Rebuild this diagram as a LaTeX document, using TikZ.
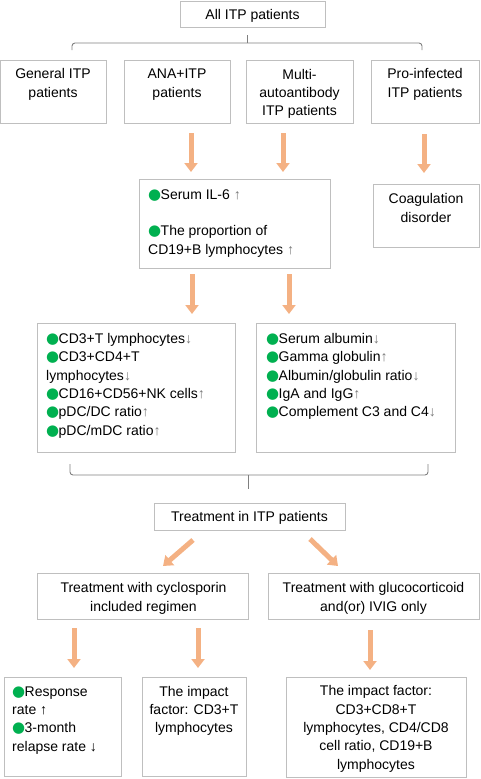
\documentclass[tikz,border=0pt]{standalone}
\usepackage{fontspec}
\setmainfont{Liberation Sans}
\newfontfamily\dejavu{DejaVu Sans}
\usetikzlibrary{arrows.meta}
\definecolor{bord}{HTML}{BFBFBF}
\definecolor{oarr}{HTML}{F4B183}
\definecolor{bgreen}{HTML}{00B050}
\definecolor{bracec}{HTML}{7F7F7F}
\definecolor{garr}{HTML}{7A7A7A}
\newcommand\gb{\makebox[12.5pt][l]{\textcolor{bgreen}{\dejavu\fontsize{15}{15}\selectfont ●}}}
\newcommand\uparr{\textcolor{garr}{↑}}
\newcommand\dnarr{\textcolor{garr}{↓}}
\begin{document}
\begin{tikzpicture}[x=1pt,y=-1pt,
  box/.style={draw=bord, line width=1pt, inner sep=0pt, fill=white},
  txt/.style={inner sep=0pt, font=\fontsize{14}{18.33}\selectfont, align=center, text=black},
  txtl/.style={txt, align=left},
  oarrow/.style={draw=oarr, line width=5pt, -{Triangle[width=13pt,length=9pt]}},
  bracel/.style={draw=bracec, line width=0.9pt, rounded corners=3pt}]
\useasboundingbox (0,0) rectangle (480,779);
% boxes
\node[box, minimum width=145pt, minimum height=26pt] (top) at (252.5,14) {};
\node[box, minimum width=105.5pt, minimum height=63pt] (b1) at (53.25,91.5) {};
\node[box, minimum width=106pt, minimum height=63pt] (b2) at (177,91.5) {};
\node[box, minimum width=107pt, minimum height=63pt] (b3) at (299.5,91.5) {};
\node[box, minimum width=108pt, minimum height=63pt] (b4) at (425.25,91.5) {};
\node[box, minimum width=191pt, minimum height=89pt] (il6) at (234.5,223.5) {};
\node[box, minimum width=106pt, minimum height=63pt] (coag) at (426,215.5) {};
\node[box, minimum width=198pt, minimum height=129pt] (lm) at (136,387.5) {};
\node[box, minimum width=199pt, minimum height=129pt] (rm) at (355.5,387.5) {};
\node[box, minimum width=191pt, minimum height=27pt] (treat) at (249.5,516.5) {};
\node[box, minimum width=211pt, minimum height=46pt] (cyc) at (142.5,596) {};
\node[box, minimum width=211pt, minimum height=46pt] (glu) at (373.5,596) {};
\node[box, minimum width=117pt, minimum height=99pt] (ba) at (62.5,726.5) {};
\node[box, minimum width=104pt, minimum height=99pt] (bb) at (194,726.5) {};
\node[box, minimum width=180pt, minimum height=100pt] (bc) at (376,727) {};
% texts (base anchor = baseline of last line)
\node[txt, anchor=base] (ttop) at (252.5,19.5) {All ITP patients};
\node[txt, anchor=base] (t1) at (53,97.3) {General ITP\\patients};
\node[txt, anchor=base] (t2) at (177,97.3) {ANA+ITP\\patients};
\node[txt, anchor=base] (t3) at (299.5,115.7) {Multi-\\autoantibody\\ITP patients};
\node[txt, anchor=base] (t4) at (425,97.3) {Pro-infected\\ITP patients};
\node[txtl, anchor=base west] (til6) at (148,254) {\gb Serum IL-6 \uparr\\[18.33pt]\gb The proportion of\\CD19+B lymphocytes \uparr};
\node[txt, anchor=base] (tcoag) at (426,222.3) {Coagulation\\disorder};
\node[txtl, anchor=base west] (tlm) at (46,435) {\gb CD3+T lymphocytes\dnarr\\\gb CD3+CD4+T\\lymphocytes\dnarr\\\gb CD16+CD56+NK cells\uparr\\\gb pDC/DC ratio\uparr\\\gb pDC/mDC ratio\uparr};
\node[txtl, anchor=base west] (trm) at (266,416.7) {\gb Serum albumin\dnarr\\\gb Gamma globulin\uparr\\\gb Albumin/globulin ratio\dnarr\\\gb IgA and IgG\uparr\\\gb Complement C3 and C4\dnarr};
\node[txt, anchor=base] (ttreat) at (249.5,521.7) {Treatment in ITP patients};
\node[txt, anchor=base] (tcyc) at (143.5,611) {Treatment with cyclosporin\\included regimen};
\node[txt, anchor=base] (tglu) at (373.5,611) {Treatment with glucocorticoid\\and(or) IVIG only};
\node[txtl, anchor=base west] (ta) at (12,751) {\gb Response\\rate ↑\\\gb 3-month\\relapse rate ↓};
\node[txt, anchor=base] (tb) at (194,732.7) {The impact\\factor: CD3+T\\lymphocytes};
\node[txt, anchor=base] (tc) at (376,769.3) {The impact factor:\\CD3+CD8+T\\lymphocytes, CD4/CD8\\cell ratio, CD19+B\\lymphocytes};
% braces
\draw[bracel] (72,50) -- (72,43) -- (422,43) -- (422,50);
\coordinate (bt) at (247,35);
\draw[draw=bracec, line width=0.9pt] (247,43) -- (bt);
\draw[bracel] (70,464) -- (70,475) -- (428,475) -- (428,464);
\coordinate (bb2) at (248,489);
\draw[draw=bracec, line width=0.9pt] (248,475) -- (bb2);
% arrows
\coordinate (a1s) at (191,133); \coordinate (a1e) at (191,172);
\coordinate (a2s) at (283,133); \coordinate (a2e) at (283,172);
\coordinate (a3s) at (424,134); \coordinate (a3e) at (424,173);
\coordinate (a4s) at (192,274); \coordinate (a4e) at (192,314);
\coordinate (a5s) at (289,274); \coordinate (a5e) at (289,314);
\coordinate (a6s) at (193,540); \coordinate (a6e) at (163,566);
\coordinate (a7s) at (310,539); \coordinate (a7e) at (338,566);
\coordinate (a8s) at (74,628); \coordinate (a8e) at (74,668);
\coordinate (a9s) at (198,628); \coordinate (a9e) at (198,668);
\coordinate (a10s) at (370,630); \coordinate (a10e) at (370,670);
\foreach \i in {1,...,10} \draw[oarrow] (a\i s) -- (a\i e);
\end{tikzpicture}
\end{document}
